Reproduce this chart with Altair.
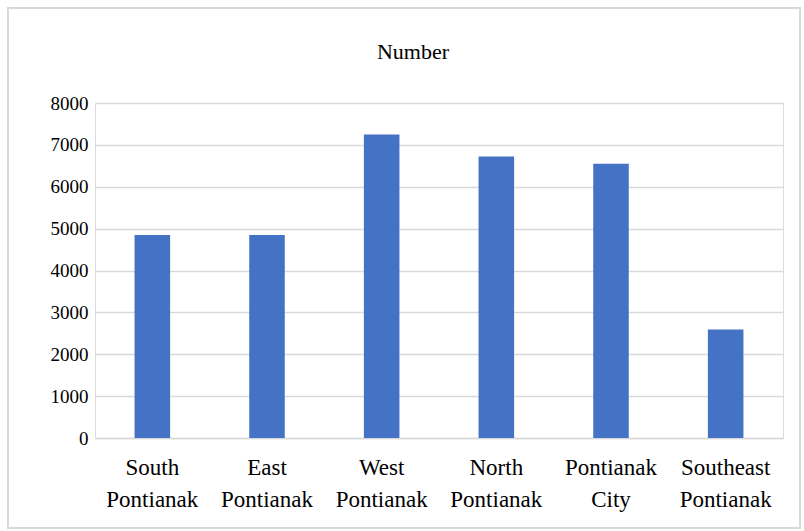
import altair as alt
import pandas as pd

categories = ["South Pontianak", "East Pontianak", "West Pontianak",
              "North Pontianak", "Pontianak City", "Southeast Pontianak"]
values = [4850, 4850, 7250, 6720, 6550, 2590]

df = pd.DataFrame({"region": categories, "number": values})

FONT = "Liberation Serif"

bars = alt.Chart(df).mark_bar(color="#4472C4").encode(
    x=alt.X("region:N", sort=categories, title=None,
            scale=alt.Scale(paddingInner=0.69, paddingOuter=0.345),
            axis=alt.Axis(labelAngle=0, labelExpr="split(datum.label, ' ')",
                          labelFontSize=23, labelLineHeight=32, labelPadding=18,
                          labelFont=FONT, labelColor="#000000", ticks=False,
                          domain=True, domainColor="#d9d9d9", domainWidth=1.5,
                          grid=False)),
    y=alt.Y("number:Q", title=None,
            scale=alt.Scale(domain=[0, 8000]),
            axis=alt.Axis(values=list(range(0, 8001, 1000)), format="d",
                          labelFontSize=19,
                          labelFont=FONT, labelColor="#000000", labelPadding=7,
                          ticks=False, domain=False, grid=True,
                          gridColor="#d9d9d9", gridWidth=1.5)),
)

frame = alt.Chart(df).mark_rect(fill=None, stroke="#d9d9d9", strokeWidth=1.5).encode(
    x=alt.value(-87), x2=alt.value(705), y=alt.value(-95), y2=alt.value(425)
)

chart = alt.layer(frame, bars).properties(
    width=688, height=335,
    title=alt.TitleParams("Number", font=FONT, fontSize=22, fontWeight="normal",
                          color="#000000", anchor="middle", offset=-57, dx=-26),
    autosize=alt.AutoSizeParams(type="none"),
    padding={"left": 95, "top": 103, "right": 21, "bottom": 93},
).configure_view(stroke=None).configure(background="white")

chart.save("out.html", embed_options={"renderer": "svg", "actions": False})
